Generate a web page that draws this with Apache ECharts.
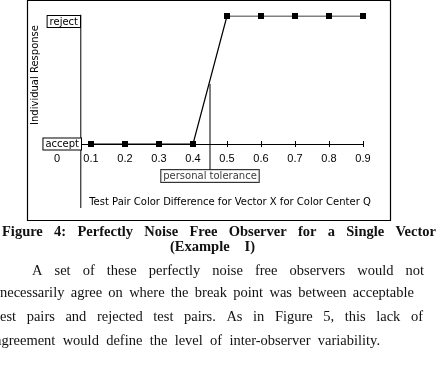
<!DOCTYPE html>
<html>
<head>
<meta charset="utf-8">
<script src="https://cdn.jsdelivr.net/npm/echarts@6.0.0/dist/echarts.min.js"></script>
<style>
  html, body { margin: 0; padding: 0; background: #fff; }
  #chart { width: 440px; height: 369px; }
</style>
</head>
<body>
<div id="chart"></div>
<script>
// chart data
const xValues = [0.1, 0.2, 0.3, 0.4, 0.5, 0.6, 0.7, 0.8, 0.9]
const responses = [0, 0, 0, 0, 1, 1, 1, 1, 1]
const xTickLabels = ['0', '0.1', '0.2', '0.3', '0.4', '0.5', '0.6', '0.7', '0.8', '0.9']
const yTickLabels = ['accept', 'reject']
const tolerance = 0.45
const toleranceSpan = [0.47, -0.2]
const yAxisCross = 0.07
const yAxisSpan = [1.01, -0.5]

const yTitle = 'Individual Response'
const xTitle = 'Test Pair Color Difference for Vector X for Color Center Q'
const toleranceLabel = 'personal tolerance'

const captionLines = [
  'Figure 4: Perfectly Noise Free Observer for a Single Vector',
  '(Example I)',
]
const bodyLines = [
  'A set of these perfectly noise free observers would not',
  'necessarily agree on where the break point was between acceptable',
  'test pairs and rejected test pairs. As in Figure 5, this lack of',
  'agreement would define the level of inter-observer variability.',
]

const chartFont = 'DejaVu Sans'
const captionFont = 'bold 14.5px "Liberation Serif"'
const bodyFont = '14.5px "Liberation Serif"'

const measureCtx = document.createElement('canvas').getContext('2d')

// spread the words of one line between left and right edges
const justify = (line, left, right, y, font) => {
  const words = line.split(' ')
  measureCtx.font = font
  const widths = words.map((w) => measureCtx.measureText(w).width)
  const total = widths.reduce((a, b) => a + b, 0)
  const gap = words.length > 1 ? (right - left - total) / (words.length - 1) : 0
  let x = left
  return words.map((w, i) => {
    const el = {
      type: 'text',
      x,
      y,
      style: { text: w, font, fill: '#111', textAlign: 'left', textVerticalAlign: 'middle' },
    }
    x += widths[i] + gap
    return el
  })
}

const boxLabel = {
  backgroundColor: '#fff',
  borderColor: '#000',
  borderWidth: 1,
  padding: [1, 2, 0, 2],
  fontSize: 10,
  lineHeight: 11,
  fontFamily: chartFont,
  color: '#000',
}

const textEls = [
  ...justify(captionLines[0], 2, 436, 232, captionFont),
  ...justify(captionLines[1], 170, 255, 247, captionFont),
  ...justify(bodyLines[0], 32, 424, 271, bodyFont),
  ...justify(bodyLines[1], 0, 414, 293, bodyFont),
  ...justify(bodyLines[2], -4, 423, 317, bodyFont),
  ...justify(bodyLines[3], -5, 380, 341, bodyFont),
]

const yAxisBase = {
  type: 'value',
  min: 0,
  max: 1,
  interval: 1,
  position: 'left',
  offset: -24,
  z: 5,
  axisLine: { show: false },
  axisTick: { show: false },
  splitLine: { show: false },
}

const chart = echarts.init(document.getElementById('chart'), null, { renderer: 'canvas' })

chart.setOption({
  animation: false,
  backgroundColor: '#fff',
  grid: { left: 57, right: 77, top: 16, bottom: 225 },
  xAxis: [
    {
      type: 'value',
      min: 0,
      max: 0.9,
      interval: 0.1,
      axisLine: { show: true, lineStyle: { color: '#000', width: 1 } },
      axisTick: { show: true, length: 3, lineStyle: { color: '#000' } },
      axisLabel: {
        margin: 9,
        fontSize: 11,
        fontFamily: 'Liberation Sans',
        color: '#000',
        formatter: (v) => xTickLabels[Math.round(v * 10)],
      },
      splitLine: { show: false },
    },
    {
      type: 'value',
      min: 0,
      max: 0.9,
      interval: 0.1,
      position: 'bottom',
      offset: 0,
      axisLine: { show: false },
      axisTick: { show: true, inside: true, length: 3, lineStyle: { color: '#000' } },
      axisLabel: { show: false },
      splitLine: { show: false },
    },
  ],
  yAxis: [
    {
      ...yAxisBase,
      axisLabel: {
        margin: 0,
        verticalAlign: 'middle',
        formatter: (v) => (v === 0 ? '{b|' + yTickLabels[0] + '}' : ''),
        rich: { b: boxLabel },
      },
    },
    {
      ...yAxisBase,
      axisLabel: {
        margin: 1,
        verticalAlign: 'top',
        formatter: (v) => (v === 1 ? '{b|' + yTickLabels[1] + '}' : ''),
        rich: { b: boxLabel },
      },
    },
  ],
  series: [
    {
      type: 'line',
      data: [[yAxisCross, yAxisSpan[0]], [yAxisCross, yAxisSpan[1]]],
      symbol: 'none',
      clip: false,
      lineStyle: { color: '#000', width: 1 },
      z: 1,
    },
    {
      type: 'line',
      data: xValues.map((x, i) => [x, responses[i]]),
      symbol: 'rect',
      symbolSize: 6,
      itemStyle: { color: '#000' },
      lineStyle: { color: '#000', width: 1.2 },
      z: 3,
    },
    {
      type: 'line',
      data: [[tolerance, toleranceSpan[0]], [tolerance, toleranceSpan[1]]],
      symbol: 'none',
      clip: false,
      lineStyle: { color: '#000', width: 1 },
      z: 2,
    },
    {
      type: 'scatter',
      data: [[tolerance, toleranceSpan[1]]],
      symbolSize: 1,
      clip: false,
      itemStyle: { color: 'rgba(0,0,0,0)' },
      label: {
        show: true,
        position: 'bottom',
        distance: 0,
        formatter: toleranceLabel,
        ...boxLabel,
      },
      z: 4,
    },
  ],
  graphic: [
    {
      type: 'rect',
      shape: { x: 27.5, y: 0.5, width: 363, height: 220 },
      style: { fill: 'none', stroke: '#000', lineWidth: 1.2 },
      z: 0,
    },
    {
      type: 'text',
      x: 35,
      y: 75,
      rotation: Math.PI / 2,
      style: {
        text: yTitle,
        font: '10px "DejaVu Sans"',
        fill: '#000',
        textAlign: 'center',
        textVerticalAlign: 'middle',
      },
    },
    {
      type: 'text',
      x: 230,
      y: 202,
      style: {
        text: xTitle,
        font: '10px "DejaVu Sans"',
        fill: '#000',
        textAlign: 'center',
        textVerticalAlign: 'middle',
      },
    },
    ...textEls,
  ],
})
</script>
</body>
</html>
